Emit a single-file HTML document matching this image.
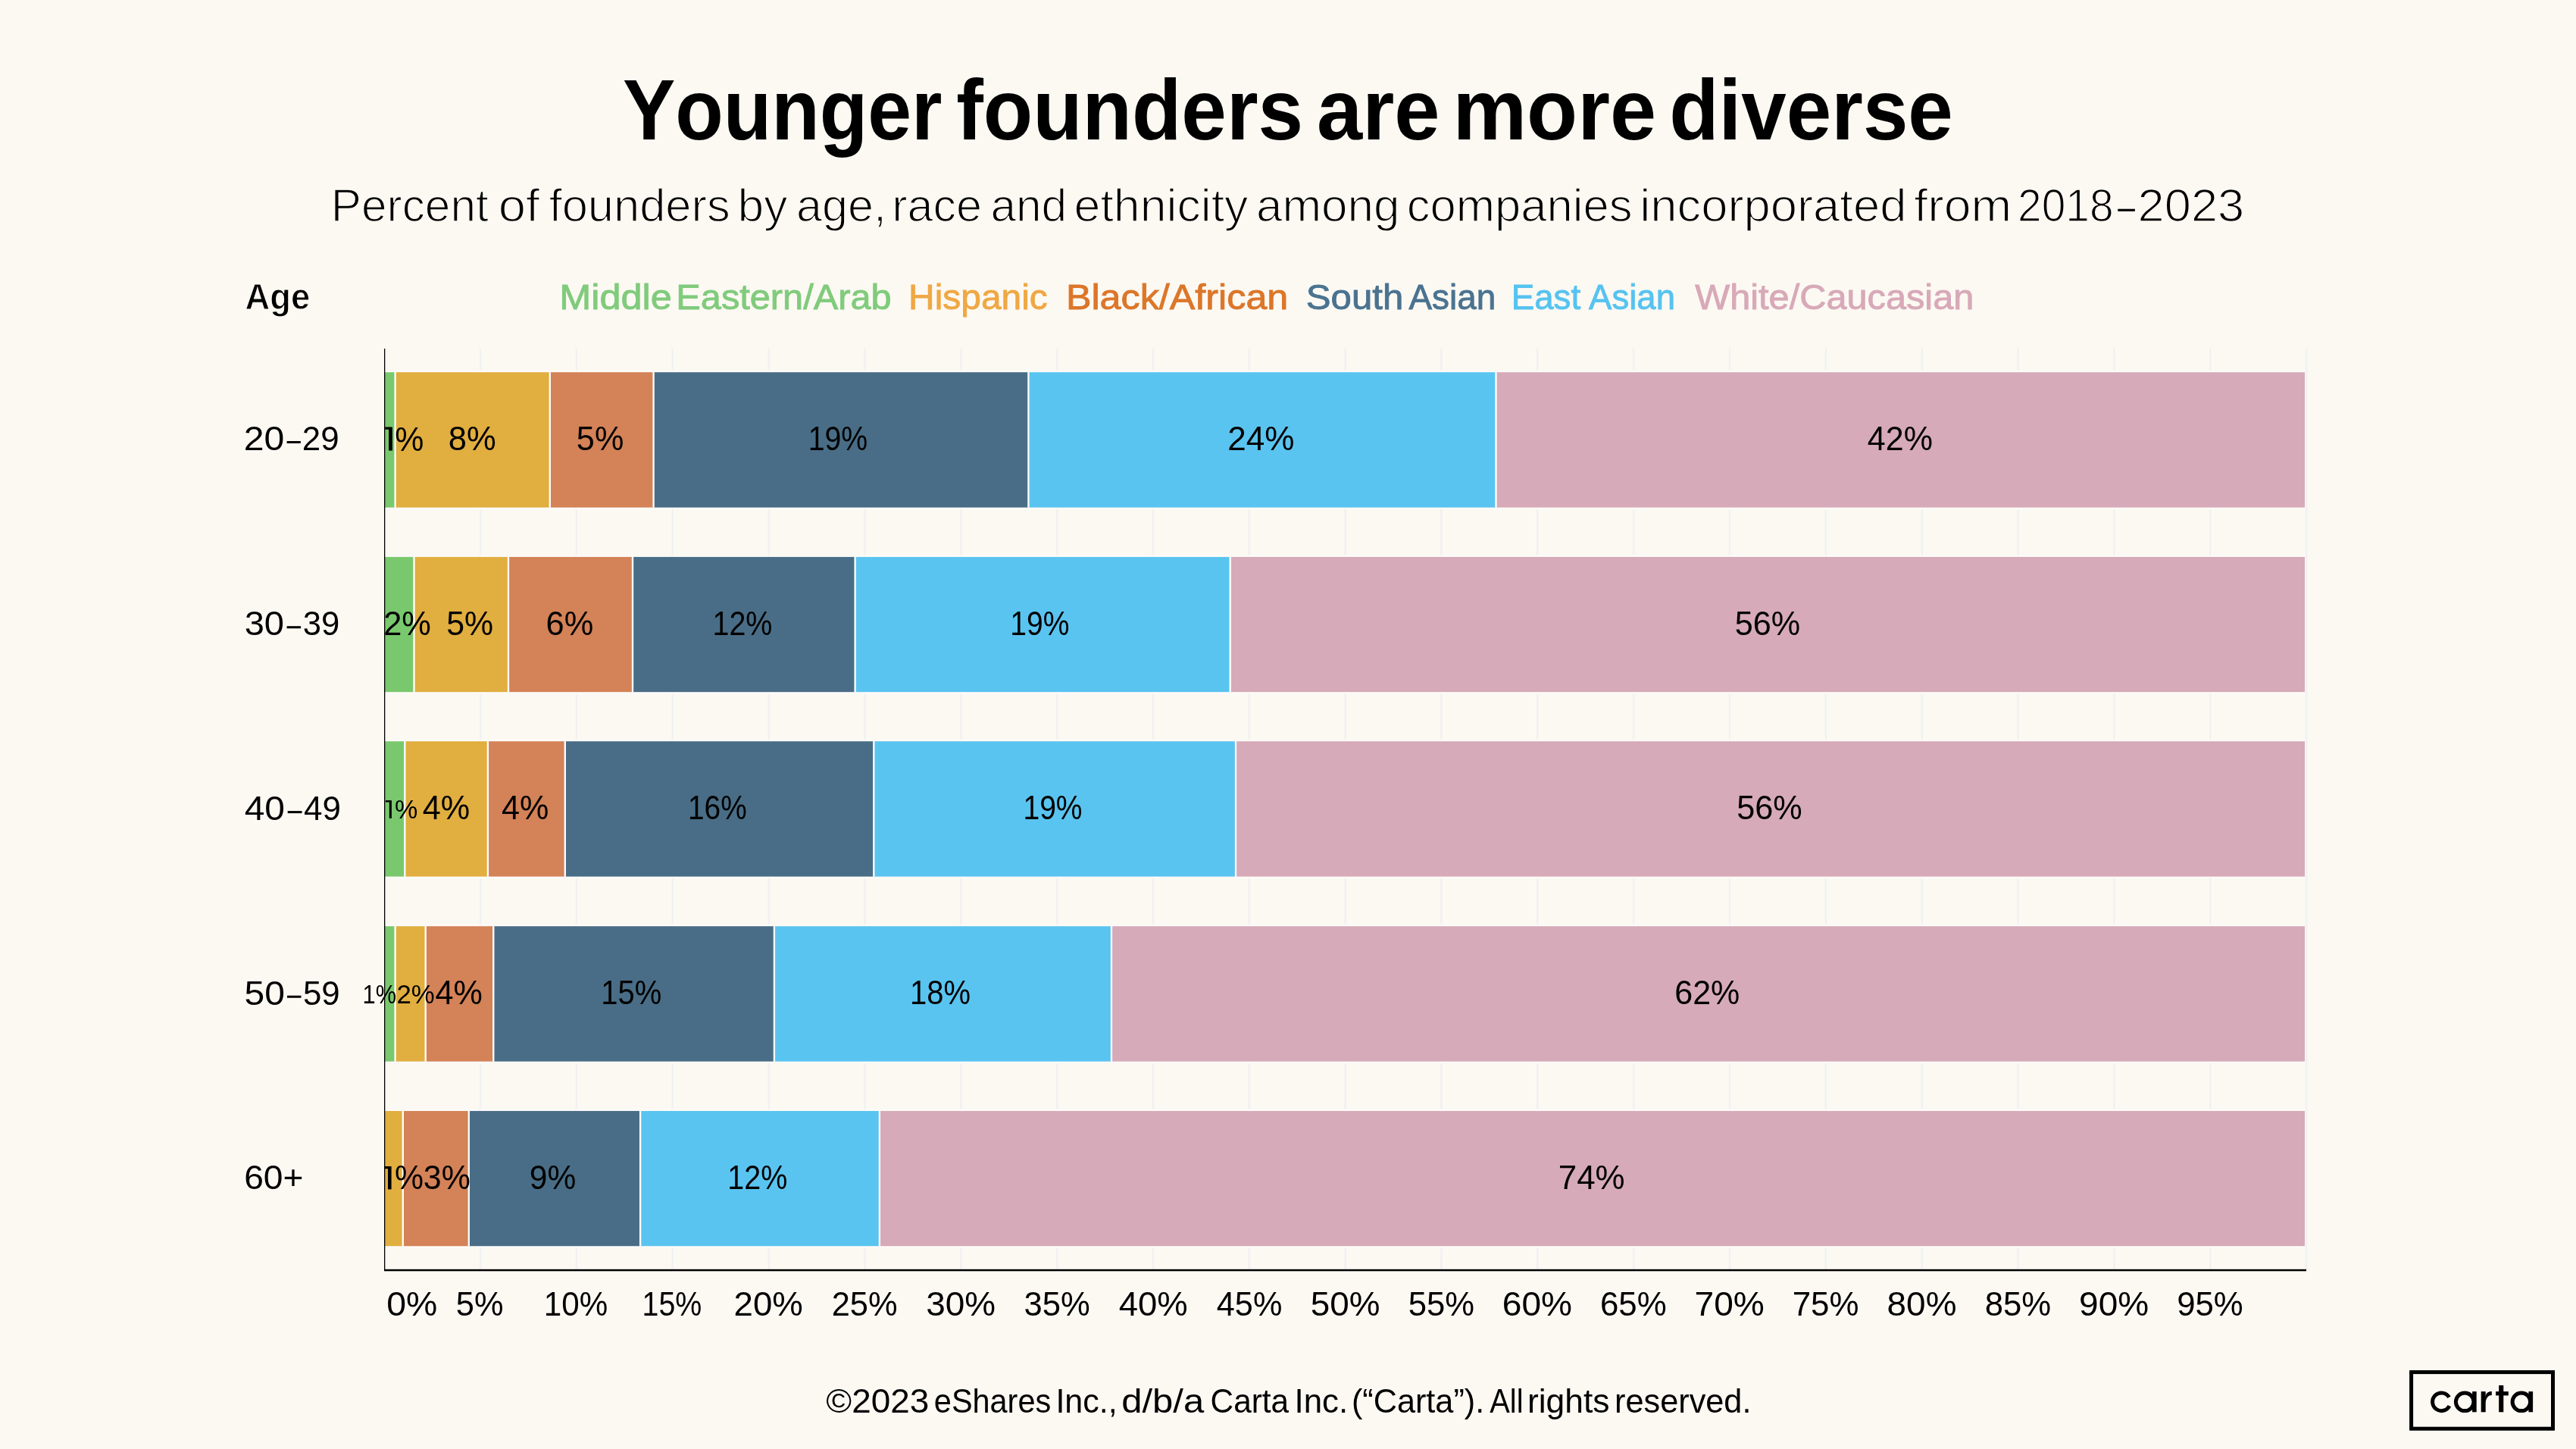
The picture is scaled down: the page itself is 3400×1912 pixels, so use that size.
<!DOCTYPE html>
<html><head><meta charset="utf-8"><style>
html,body{margin:0;padding:0;background:#FCF9F3;}
body{width:3400px;height:1912px;overflow:hidden;}
svg{display:block;will-change:transform;font-family:"Liberation Sans",sans-serif;font-kerning:none;}
</style></head><body>
<svg width="3400" height="1912" viewBox="0 0 3400 1912">
<defs><clipPath id="plot"><rect x="507.6" y="400" width="2600" height="1300"/></clipPath></defs>
<rect width="3400" height="1912" fill="#FCF9F3"/>
<rect x="632.75" y="460" width="2.6" height="1215" fill="#F1F1F2"/>
<rect x="759.59" y="460" width="2.6" height="1215" fill="#F1F1F2"/>
<rect x="886.44" y="460" width="2.6" height="1215" fill="#F1F1F2"/>
<rect x="1013.28" y="460" width="2.6" height="1215" fill="#F1F1F2"/>
<rect x="1140.12" y="460" width="2.6" height="1215" fill="#F1F1F2"/>
<rect x="1266.97" y="460" width="2.6" height="1215" fill="#F1F1F2"/>
<rect x="1393.82" y="460" width="2.6" height="1215" fill="#F1F1F2"/>
<rect x="1520.66" y="460" width="2.6" height="1215" fill="#F1F1F2"/>
<rect x="1647.51" y="460" width="2.6" height="1215" fill="#F1F1F2"/>
<rect x="1774.35" y="460" width="2.6" height="1215" fill="#F1F1F2"/>
<rect x="1901.20" y="460" width="2.6" height="1215" fill="#F1F1F2"/>
<rect x="2028.04" y="460" width="2.6" height="1215" fill="#F1F1F2"/>
<rect x="2154.88" y="460" width="2.6" height="1215" fill="#F1F1F2"/>
<rect x="2281.73" y="460" width="2.6" height="1215" fill="#F1F1F2"/>
<rect x="2408.57" y="460" width="2.6" height="1215" fill="#F1F1F2"/>
<rect x="2535.42" y="460" width="2.6" height="1215" fill="#F1F1F2"/>
<rect x="2662.26" y="460" width="2.6" height="1215" fill="#F1F1F2"/>
<rect x="2789.11" y="460" width="2.6" height="1215" fill="#F1F1F2"/>
<rect x="2915.95" y="460" width="2.6" height="1215" fill="#F1F1F2"/>
<rect x="3042.80" y="460" width="2.6" height="1215" fill="#F1F1F2"/>
<rect x="507.60" y="491.10" width="14.00" height="178.70" fill="#7AC86E"/>
<rect x="521.60" y="491.10" width="204.20" height="178.70" fill="#E1AE40"/>
<rect x="725.80" y="491.10" width="136.80" height="178.70" fill="#D48257"/>
<rect x="862.60" y="491.10" width="494.80" height="178.70" fill="#496D86"/>
<rect x="1357.40" y="491.10" width="617.10" height="178.70" fill="#5AC4F0"/>
<rect x="1974.50" y="491.10" width="1067.50" height="178.70" fill="#D6AAB8"/>
<rect x="520.45" y="491.10" width="2.3" height="178.70" fill="#fff"/>
<rect x="724.65" y="491.10" width="2.3" height="178.70" fill="#fff"/>
<rect x="861.45" y="491.10" width="2.3" height="178.70" fill="#fff"/>
<rect x="1356.25" y="491.10" width="2.3" height="178.70" fill="#fff"/>
<rect x="1973.35" y="491.10" width="2.3" height="178.70" fill="#fff"/>
<rect x="507.60" y="734.70" width="38.90" height="178.70" fill="#7AC86E"/>
<rect x="546.50" y="734.70" width="124.50" height="178.70" fill="#E1AE40"/>
<rect x="671.00" y="734.70" width="164.00" height="178.70" fill="#D48257"/>
<rect x="835.00" y="734.70" width="293.60" height="178.70" fill="#496D86"/>
<rect x="1128.60" y="734.70" width="495.10" height="178.70" fill="#5AC4F0"/>
<rect x="1623.70" y="734.70" width="1418.30" height="178.70" fill="#D6AAB8"/>
<rect x="545.35" y="734.70" width="2.3" height="178.70" fill="#fff"/>
<rect x="669.85" y="734.70" width="2.3" height="178.70" fill="#fff"/>
<rect x="833.85" y="734.70" width="2.3" height="178.70" fill="#fff"/>
<rect x="1127.45" y="734.70" width="2.3" height="178.70" fill="#fff"/>
<rect x="1622.55" y="734.70" width="2.3" height="178.70" fill="#fff"/>
<rect x="507.60" y="978.10" width="26.70" height="178.70" fill="#7AC86E"/>
<rect x="534.30" y="978.10" width="109.60" height="178.70" fill="#E1AE40"/>
<rect x="643.90" y="978.10" width="101.90" height="178.70" fill="#D48257"/>
<rect x="745.80" y="978.10" width="407.50" height="178.70" fill="#496D86"/>
<rect x="1153.30" y="978.10" width="477.70" height="178.70" fill="#5AC4F0"/>
<rect x="1631.00" y="978.10" width="1411.00" height="178.70" fill="#D6AAB8"/>
<rect x="533.15" y="978.10" width="2.3" height="178.70" fill="#fff"/>
<rect x="642.75" y="978.10" width="2.3" height="178.70" fill="#fff"/>
<rect x="744.65" y="978.10" width="2.3" height="178.70" fill="#fff"/>
<rect x="1152.15" y="978.10" width="2.3" height="178.70" fill="#fff"/>
<rect x="1629.85" y="978.10" width="2.3" height="178.70" fill="#fff"/>
<rect x="507.60" y="1222.10" width="14.00" height="178.70" fill="#7AC86E"/>
<rect x="521.60" y="1222.10" width="40.10" height="178.70" fill="#E1AE40"/>
<rect x="561.70" y="1222.10" width="89.60" height="178.70" fill="#D48257"/>
<rect x="651.30" y="1222.10" width="370.60" height="178.70" fill="#496D86"/>
<rect x="1021.90" y="1222.10" width="445.10" height="178.70" fill="#5AC4F0"/>
<rect x="1467.00" y="1222.10" width="1575.00" height="178.70" fill="#D6AAB8"/>
<rect x="520.45" y="1222.10" width="2.3" height="178.70" fill="#fff"/>
<rect x="560.55" y="1222.10" width="2.3" height="178.70" fill="#fff"/>
<rect x="650.15" y="1222.10" width="2.3" height="178.70" fill="#fff"/>
<rect x="1020.75" y="1222.10" width="2.3" height="178.70" fill="#fff"/>
<rect x="1465.85" y="1222.10" width="2.3" height="178.70" fill="#fff"/>
<rect x="507.60" y="1465.80" width="24.20" height="178.70" fill="#E1AE40"/>
<rect x="531.80" y="1465.80" width="87.00" height="178.70" fill="#D48257"/>
<rect x="618.80" y="1465.80" width="226.30" height="178.70" fill="#496D86"/>
<rect x="845.10" y="1465.80" width="315.80" height="178.70" fill="#5AC4F0"/>
<rect x="1160.90" y="1465.80" width="1881.10" height="178.70" fill="#D6AAB8"/>
<rect x="530.65" y="1465.80" width="2.3" height="178.70" fill="#fff"/>
<rect x="617.65" y="1465.80" width="2.3" height="178.70" fill="#fff"/>
<rect x="843.95" y="1465.80" width="2.3" height="178.70" fill="#fff"/>
<rect x="1159.75" y="1465.80" width="2.3" height="178.70" fill="#fff"/>
<rect x="507.60" y="488.70" width="2534.40" height="2.4" fill="#FDFBF8"/>
<rect x="507.60" y="669.80" width="2534.40" height="2.4" fill="#FDFBF8"/>
<rect x="507.60" y="732.30" width="2534.40" height="2.4" fill="#FDFBF8"/>
<rect x="507.60" y="913.40" width="2534.40" height="2.4" fill="#FDFBF8"/>
<rect x="507.60" y="975.70" width="2534.40" height="2.4" fill="#FDFBF8"/>
<rect x="507.60" y="1156.80" width="2534.40" height="2.4" fill="#FDFBF8"/>
<rect x="507.60" y="1219.70" width="2534.40" height="2.4" fill="#FDFBF8"/>
<rect x="507.60" y="1400.80" width="2534.40" height="2.4" fill="#FDFBF8"/>
<rect x="507.60" y="1463.40" width="2534.40" height="2.4" fill="#FDFBF8"/>
<rect x="507.60" y="1644.50" width="2534.40" height="2.4" fill="#FDFBF8"/>
<rect x="507" y="460" width="1.3" height="1217" fill="#000"/>
<rect x="507" y="1674.8" width="2537" height="2.5" fill="#000"/>
<text x="822.02" y="184.20" font-size="113.37" font-weight="bold" fill="#000" textLength="421.55" lengthAdjust="spacingAndGlyphs">Younger</text>
<text x="1262.17" y="184.20" font-size="113.37" font-weight="bold" fill="#000" textLength="457.92" lengthAdjust="spacingAndGlyphs">founders</text>
<text x="1738.03" y="184.20" font-size="113.37" font-weight="bold" fill="#000" textLength="162.36" lengthAdjust="spacingAndGlyphs">are</text>
<text x="1917.46" y="184.20" font-size="113.37" font-weight="bold" fill="#000" textLength="268.49" lengthAdjust="spacingAndGlyphs">more</text>
<text x="2203.31" y="184.20" font-size="113.37" font-weight="bold" fill="#000" textLength="374.54" lengthAdjust="spacingAndGlyphs">diverse</text>
<text x="436.75" y="292.00" font-size="61.05" font-weight="normal" fill="#000" textLength="207.99" lengthAdjust="spacingAndGlyphs" stroke="#FCF9F3" stroke-width="1.5">Percent</text>
<text x="657.66" y="292.00" font-size="61.05" font-weight="normal" fill="#000" textLength="54.34" lengthAdjust="spacingAndGlyphs" stroke="#FCF9F3" stroke-width="1.5">of</text>
<text x="724.63" y="292.00" font-size="61.05" font-weight="normal" fill="#000" textLength="239.09" lengthAdjust="spacingAndGlyphs" stroke="#FCF9F3" stroke-width="1.5">founders</text>
<text x="973.58" y="292.00" font-size="61.05" font-weight="normal" fill="#000" textLength="65.84" lengthAdjust="spacingAndGlyphs" stroke="#FCF9F3" stroke-width="1.5">by</text>
<text x="1051.11" y="292.00" font-size="61.05" font-weight="normal" fill="#000" textLength="118.88" lengthAdjust="spacingAndGlyphs" stroke="#FCF9F3" stroke-width="1.5">age,</text>
<text x="1177.24" y="292.00" font-size="61.05" font-weight="normal" fill="#000" textLength="118.87" lengthAdjust="spacingAndGlyphs" stroke="#FCF9F3" stroke-width="1.5">race</text>
<text x="1307.44" y="292.00" font-size="61.05" font-weight="normal" fill="#000" textLength="100.65" lengthAdjust="spacingAndGlyphs" stroke="#FCF9F3" stroke-width="1.5">and</text>
<text x="1417.54" y="292.00" font-size="61.05" font-weight="normal" fill="#000" textLength="229.88" lengthAdjust="spacingAndGlyphs" stroke="#FCF9F3" stroke-width="1.5">ethnicity</text>
<text x="1657.97" y="292.00" font-size="61.05" font-weight="normal" fill="#000" textLength="189.63" lengthAdjust="spacingAndGlyphs" stroke="#FCF9F3" stroke-width="1.5">among</text>
<text x="1856.68" y="292.00" font-size="61.05" font-weight="normal" fill="#000" textLength="297.94" lengthAdjust="spacingAndGlyphs" stroke="#FCF9F3" stroke-width="1.5">companies</text>
<text x="2164.16" y="292.00" font-size="61.05" font-weight="normal" fill="#000" textLength="352.22" lengthAdjust="spacingAndGlyphs" stroke="#FCF9F3" stroke-width="1.5">incorporated</text>
<text x="2526.39" y="292.00" font-size="61.05" font-weight="normal" fill="#000" textLength="128.76" lengthAdjust="spacingAndGlyphs" stroke="#FCF9F3" stroke-width="1.5">from</text>
<text x="2663.04" y="292.00" font-size="61.05" font-weight="normal" fill="#000" textLength="126.53" lengthAdjust="spacingAndGlyphs" stroke="#FCF9F3" stroke-width="1.5">2018</text>
<text x="2821.62" y="292.00" font-size="61.05" font-weight="normal" fill="#000" textLength="140.55" lengthAdjust="spacingAndGlyphs" stroke="#FCF9F3" stroke-width="1.5">2023</text>
<rect x="2795.3" y="275.7" width="22.6" height="3.1" fill="#000"/>
<text x="323.57" y="408.00" font-size="47.97" font-weight="bold" fill="#000" textLength="85.68" lengthAdjust="spacingAndGlyphs" stroke="#FCF9F3" stroke-width="1.0">Age</text>
<text x="738.32" y="407.80" font-size="47.09" font-weight="normal" fill="#80CB7C" textLength="148.47" lengthAdjust="spacingAndGlyphs" stroke="#80CB7C" stroke-width="0.90">Middle</text>
<text x="892.35" y="407.80" font-size="47.09" font-weight="normal" fill="#80CB7C" textLength="284.24" lengthAdjust="spacingAndGlyphs" stroke="#80CB7C" stroke-width="0.90">Eastern/Arab</text>
<text x="1199.02" y="407.80" font-size="47.09" font-weight="normal" fill="#EFA845" textLength="183.80" lengthAdjust="spacingAndGlyphs" stroke="#EFA845" stroke-width="0.90">Hispanic</text>
<text x="1406.93" y="407.80" font-size="47.09" font-weight="normal" fill="#DC7629" textLength="293.39" lengthAdjust="spacingAndGlyphs" stroke="#DC7629" stroke-width="0.90">Black/African</text>
<text x="1723.82" y="407.80" font-size="47.09" font-weight="normal" fill="#4A7390" textLength="128.42" lengthAdjust="spacingAndGlyphs" stroke="#4A7390" stroke-width="0.90">South</text>
<text x="1859.56" y="407.80" font-size="47.09" font-weight="normal" fill="#4A7390" textLength="114.67" lengthAdjust="spacingAndGlyphs" stroke="#4A7390" stroke-width="0.90">Asian</text>
<text x="1994.70" y="407.80" font-size="47.09" font-weight="normal" fill="#56C3F0" textLength="91.49" lengthAdjust="spacingAndGlyphs" stroke="#56C3F0" stroke-width="0.90">East</text>
<text x="2097.06" y="407.80" font-size="47.09" font-weight="normal" fill="#56C3F0" textLength="113.95" lengthAdjust="spacingAndGlyphs" stroke="#56C3F0" stroke-width="0.90">Asian</text>
<text x="2237.24" y="407.80" font-size="47.09" font-weight="normal" fill="#D8A9B8" textLength="368.08" lengthAdjust="spacingAndGlyphs" stroke="#D8A9B8" stroke-width="0.90">White/Caucasian</text>
<text x="321.68" y="593.80" font-size="44.04" font-weight="normal" fill="#000" textLength="53.61" lengthAdjust="spacingAndGlyphs">20</text>
<text x="398.79" y="593.80" font-size="44.04" font-weight="normal" fill="#000" textLength="48.78" lengthAdjust="spacingAndGlyphs">29</text>
<rect x="378.60" y="582.00" width="18.20" height="3" fill="#000"/>
<text x="322.71" y="838.00" font-size="44.04" font-weight="normal" fill="#000" textLength="52.33" lengthAdjust="spacingAndGlyphs">30</text>
<text x="399.64" y="838.00" font-size="44.04" font-weight="normal" fill="#000" textLength="48.53" lengthAdjust="spacingAndGlyphs">39</text>
<rect x="378.60" y="826.20" width="18.50" height="3" fill="#000"/>
<text x="322.70" y="1081.90" font-size="44.04" font-weight="normal" fill="#000" textLength="53.27" lengthAdjust="spacingAndGlyphs">40</text>
<text x="400.99" y="1081.90" font-size="44.04" font-weight="normal" fill="#000" textLength="48.89" lengthAdjust="spacingAndGlyphs">49</text>
<rect x="379.70" y="1070.10" width="18.80" height="3" fill="#000"/>
<text x="322.58" y="1325.50" font-size="44.04" font-weight="normal" fill="#000" textLength="53.40" lengthAdjust="spacingAndGlyphs">50</text>
<text x="399.95" y="1325.50" font-size="44.04" font-weight="normal" fill="#000" textLength="48.73" lengthAdjust="spacingAndGlyphs">59</text>
<rect x="379.00" y="1313.70" width="18.50" height="3" fill="#000"/>
<text x="322.16" y="1568.80" font-size="44.04" font-weight="normal" fill="#000" textLength="78.32" lengthAdjust="spacingAndGlyphs">60+</text>
<text x="591.71" y="593.50" font-size="43.61" font-weight="normal" fill="#000" textLength="62.94" lengthAdjust="spacingAndGlyphs">8%</text>
<text x="760.87" y="593.50" font-size="43.61" font-weight="normal" fill="#000" textLength="62.47" lengthAdjust="spacingAndGlyphs">5%</text>
<text x="1066.71" y="593.50" font-size="43.61" font-weight="normal" fill="#000" textLength="78.59" lengthAdjust="spacingAndGlyphs">19%</text>
<text x="1620.28" y="593.50" font-size="43.61" font-weight="normal" fill="#000" textLength="88.29" lengthAdjust="spacingAndGlyphs">24%</text>
<text x="2464.81" y="593.50" font-size="43.61" font-weight="normal" fill="#000" textLength="86.22" lengthAdjust="spacingAndGlyphs">42%</text>
<text x="506.22" y="837.60" font-size="43.61" font-weight="normal" fill="#000" textLength="62.73" lengthAdjust="spacingAndGlyphs" clip-path="url(#plot)">2%</text>
<text x="589.18" y="837.60" font-size="43.61" font-weight="normal" fill="#000" textLength="61.94" lengthAdjust="spacingAndGlyphs">5%</text>
<text x="720.50" y="837.60" font-size="43.61" font-weight="normal" fill="#000" textLength="62.75" lengthAdjust="spacingAndGlyphs">6%</text>
<text x="940.50" y="837.60" font-size="43.61" font-weight="normal" fill="#000" textLength="78.91" lengthAdjust="spacingAndGlyphs">12%</text>
<text x="1333.32" y="837.60" font-size="43.61" font-weight="normal" fill="#000" textLength="78.27" lengthAdjust="spacingAndGlyphs">19%</text>
<text x="2289.77" y="837.60" font-size="43.61" font-weight="normal" fill="#000" textLength="86.47" lengthAdjust="spacingAndGlyphs">56%</text>
<text x="557.71" y="1081.20" font-size="43.61" font-weight="normal" fill="#000" textLength="62.43" lengthAdjust="spacingAndGlyphs">4%</text>
<text x="661.91" y="1081.20" font-size="43.61" font-weight="normal" fill="#000" textLength="62.33" lengthAdjust="spacingAndGlyphs">4%</text>
<text x="907.94" y="1081.20" font-size="43.61" font-weight="normal" fill="#000" textLength="77.74" lengthAdjust="spacingAndGlyphs">16%</text>
<text x="1350.43" y="1081.20" font-size="43.61" font-weight="normal" fill="#000" textLength="78.17" lengthAdjust="spacingAndGlyphs">19%</text>
<text x="2292.27" y="1081.20" font-size="43.61" font-weight="normal" fill="#000" textLength="86.57" lengthAdjust="spacingAndGlyphs">56%</text>
<text x="478.55" y="1324.30" font-size="35.32" font-weight="normal" fill="#000" textLength="44.55" lengthAdjust="spacingAndGlyphs">1%</text>
<text x="523.45" y="1324.30" font-size="35.32" font-weight="normal" fill="#000" textLength="50.29" lengthAdjust="spacingAndGlyphs" clip-path="url(#plot)">2%</text>
<text x="574.61" y="1325.30" font-size="43.61" font-weight="normal" fill="#000" textLength="62.33" lengthAdjust="spacingAndGlyphs">4%</text>
<text x="793.25" y="1325.30" font-size="43.61" font-weight="normal" fill="#000" textLength="80.07" lengthAdjust="spacingAndGlyphs">15%</text>
<text x="1200.95" y="1325.30" font-size="43.61" font-weight="normal" fill="#000" textLength="80.07" lengthAdjust="spacingAndGlyphs">18%</text>
<text x="2210.21" y="1325.30" font-size="43.61" font-weight="normal" fill="#000" textLength="86.12" lengthAdjust="spacingAndGlyphs">62%</text>
<text x="558.76" y="1569.40" font-size="43.61" font-weight="normal" fill="#000" textLength="62.07" lengthAdjust="spacingAndGlyphs">3%</text>
<text x="698.81" y="1569.40" font-size="43.61" font-weight="normal" fill="#000" textLength="61.51" lengthAdjust="spacingAndGlyphs">9%</text>
<text x="960.29" y="1569.40" font-size="43.61" font-weight="normal" fill="#000" textLength="79.01" lengthAdjust="spacingAndGlyphs">12%</text>
<text x="2056.75" y="1569.40" font-size="43.61" font-weight="normal" fill="#000" textLength="87.92" lengthAdjust="spacingAndGlyphs">74%</text>
<g clip-path="url(#plot)"><rect x="513.10" y="563.50" width="4.80" height="31.10" fill="#000"/><rect x="508.30" y="563.50" width="5.30" height="3.20" fill="#000"/></g>
<text x="521.37" y="594.60" font-size="45.20" font-weight="normal" fill="#000" textLength="38.16" lengthAdjust="spacingAndGlyphs">%</text>
<g clip-path="url(#plot)"><rect x="512.00" y="1539.00" width="4.60" height="30.40" fill="#000"/><rect x="507.20" y="1539.00" width="5.30" height="3.20" fill="#000"/></g>
<text x="521.07" y="1569.40" font-size="44.19" font-weight="normal" fill="#000" textLength="38.05" lengthAdjust="spacingAndGlyphs">%</text>
<g clip-path="url(#plot)"><rect x="513.80" y="1056.10" width="3.10" height="23.70" fill="#000"/><rect x="509.00" y="1056.10" width="5.30" height="2.40" fill="#000"/></g>
<text x="520.88" y="1079.80" font-size="34.45" font-weight="normal" fill="#000" textLength="30.33" lengthAdjust="spacingAndGlyphs">%</text>
<text x="510.19" y="1735.90" font-size="44.19" font-weight="normal" fill="#000" textLength="67.07" lengthAdjust="spacingAndGlyphs">0%</text>
<text x="601.86" y="1735.90" font-size="44.19" font-weight="normal" fill="#000" textLength="62.68" lengthAdjust="spacingAndGlyphs">5%</text>
<text x="717.83" y="1735.90" font-size="44.19" font-weight="normal" fill="#000" textLength="84.42" lengthAdjust="spacingAndGlyphs">10%</text>
<text x="847.54" y="1735.90" font-size="44.19" font-weight="normal" fill="#000" textLength="78.80" lengthAdjust="spacingAndGlyphs">15%</text>
<text x="968.59" y="1735.90" font-size="44.19" font-weight="normal" fill="#000" textLength="91.32" lengthAdjust="spacingAndGlyphs">20%</text>
<text x="1097.64" y="1735.90" font-size="44.19" font-weight="normal" fill="#000" textLength="86.93" lengthAdjust="spacingAndGlyphs">25%</text>
<text x="1222.32" y="1735.90" font-size="44.19" font-weight="normal" fill="#000" textLength="91.78" lengthAdjust="spacingAndGlyphs">30%</text>
<text x="1351.46" y="1735.90" font-size="44.19" font-weight="normal" fill="#000" textLength="87.21" lengthAdjust="spacingAndGlyphs">35%</text>
<text x="1476.77" y="1735.90" font-size="44.19" font-weight="normal" fill="#000" textLength="90.96" lengthAdjust="spacingAndGlyphs">40%</text>
<text x="1605.81" y="1735.90" font-size="44.19" font-weight="normal" fill="#000" textLength="86.53" lengthAdjust="spacingAndGlyphs">45%</text>
<text x="1729.66" y="1735.90" font-size="44.19" font-weight="normal" fill="#000" textLength="91.77" lengthAdjust="spacingAndGlyphs">50%</text>
<text x="1858.75" y="1735.90" font-size="44.19" font-weight="normal" fill="#000" textLength="87.30" lengthAdjust="spacingAndGlyphs">55%</text>
<text x="1982.85" y="1735.90" font-size="44.19" font-weight="normal" fill="#000" textLength="92.28" lengthAdjust="spacingAndGlyphs">60%</text>
<text x="2111.96" y="1735.90" font-size="44.19" font-weight="normal" fill="#000" textLength="87.79" lengthAdjust="spacingAndGlyphs">65%</text>
<text x="2236.52" y="1735.90" font-size="44.19" font-weight="normal" fill="#000" textLength="92.31" lengthAdjust="spacingAndGlyphs">70%</text>
<text x="2365.63" y="1735.90" font-size="44.19" font-weight="normal" fill="#000" textLength="87.81" lengthAdjust="spacingAndGlyphs">75%</text>
<text x="2490.57" y="1735.90" font-size="44.19" font-weight="normal" fill="#000" textLength="91.93" lengthAdjust="spacingAndGlyphs">80%</text>
<text x="2619.67" y="1735.90" font-size="44.19" font-weight="normal" fill="#000" textLength="87.46" lengthAdjust="spacingAndGlyphs">85%</text>
<text x="2744.10" y="1735.90" font-size="44.19" font-weight="normal" fill="#000" textLength="92.10" lengthAdjust="spacingAndGlyphs">90%</text>
<text x="2873.20" y="1735.90" font-size="44.19" font-weight="normal" fill="#000" textLength="87.61" lengthAdjust="spacingAndGlyphs">95%</text>
<text x="1090.30" y="1864.40" font-size="44.19" font-weight="normal" fill="#000" textLength="136.01" lengthAdjust="spacingAndGlyphs">©2023</text>
<text x="1232.84" y="1864.40" font-size="44.19" font-weight="normal" fill="#000" textLength="154.36" lengthAdjust="spacingAndGlyphs">eShares</text>
<text x="1393.43" y="1864.40" font-size="44.19" font-weight="normal" fill="#000" textLength="81.23" lengthAdjust="spacingAndGlyphs">Inc.,</text>
<text x="1480.24" y="1864.40" font-size="44.19" font-weight="normal" fill="#000" textLength="108.96" lengthAdjust="spacingAndGlyphs">d/b/a</text>
<text x="1597.55" y="1864.40" font-size="44.19" font-weight="normal" fill="#000" textLength="103.65" lengthAdjust="spacingAndGlyphs">Carta</text>
<text x="1708.46" y="1864.40" font-size="44.19" font-weight="normal" fill="#000" textLength="70.65" lengthAdjust="spacingAndGlyphs">Inc.</text>
<text x="1783.92" y="1864.40" font-size="44.19" font-weight="normal" fill="#000" textLength="175.33" lengthAdjust="spacingAndGlyphs">(“Carta”).</text>
<text x="1966.32" y="1864.40" font-size="44.19" font-weight="normal" fill="#000" textLength="44.24" lengthAdjust="spacingAndGlyphs">All</text>
<text x="2015.95" y="1864.40" font-size="44.19" font-weight="normal" fill="#000" textLength="108.55" lengthAdjust="spacingAndGlyphs">rights</text>
<text x="2131.03" y="1864.40" font-size="44.19" font-weight="normal" fill="#000" textLength="180.43" lengthAdjust="spacingAndGlyphs">reserved.</text>
<rect x="3182.6" y="1810.6" width="186.9" height="74.6" fill="none" stroke="#000" stroke-width="5"/>
<g fill="none" stroke="#000" stroke-width="5.0">
<path d="M3232.51,1843.72 A11.80,11.80 0 1 0 3232.91,1855.16"/>
<circle cx="3253.2" cy="1849.8" r="11.8"/>
<circle cx="3327.9" cy="1849.8" r="11.8"/>
</g>
<g fill="#000">
<rect x="3263.1" y="1836.1" width="5.6" height="27.2"/>
<rect x="3337.4" y="1836.1" width="5.7" height="27.2"/>
<rect x="3274.7" y="1836.1" width="6" height="27.2"/>
<path d="M3280.2,1843.5 C3281.2,1838.5 3284,1836.1 3288.8,1836.1 L3288.8,1841 C3284.5,1841 3281.5,1844 3280.2,1852 Z"/>
<rect x="3298.2" y="1828.0" width="6.1" height="35.3"/>
<rect x="3294.1" y="1836.1" width="16.7" height="5.3"/>
</g>
</svg>
</body></html>
